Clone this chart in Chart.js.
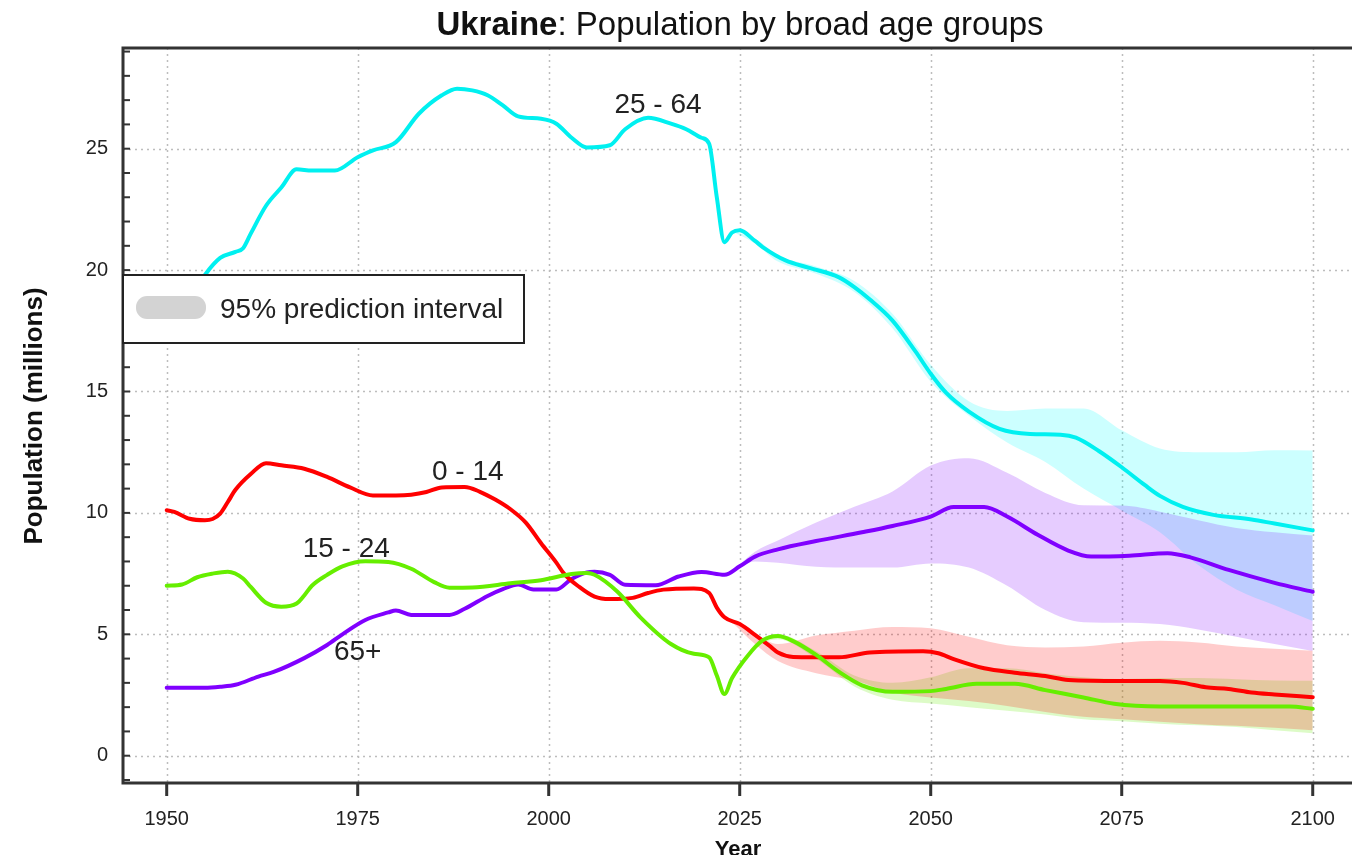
<!DOCTYPE html>
<html>
<head>
<meta charset="utf-8">
<script src="https://cdn.jsdelivr.net/npm/chart.js@4.4.1/dist/chart.umd.min.js"></script>
<style>
html,body{margin:0;padding:0;background:#fff;overflow:hidden}
#wrap{width:1352px;height:855px;position:relative}
</style>
</head>
<body>
<div id="wrap"><canvas id="c" width="1352" height="855"></canvas></div>
<script>
// ---------------- DATA ----------------
const years_0_14 = [1950,1951,1953,1955,1956,1957,1958,1959,1961,1963,1965,1968,1971,1974,1977,1980,1982,1984,1986,1989,1991,1993,1995,1997,1999,2001,2002,2004,2006,2008,2011,2013,2015,2019,2021,2022,2023,2025,2027,2029,2030,2032,2038,2042,2049,2051,2053,2057,2061,2065,2068,2075,2080,2083,2086,2089,2092,2095,2100];
const pop_0_14   = [10.11,10.04,9.76,9.70,9.75,9.97,10.45,10.95,11.60,12.05,11.96,11.82,11.48,11.05,10.72,10.72,10.75,10.86,11.05,11.07,10.87,10.55,10.15,9.60,8.75,7.95,7.50,6.95,6.55,6.45,6.50,6.70,6.84,6.89,6.70,6.10,5.70,5.42,4.98,4.50,4.25,4.07,4.05,4.25,4.30,4.22,3.98,3.60,3.42,3.28,3.12,3.08,3.08,3.00,2.82,2.75,2.60,2.52,2.41];

const years_15_24 = [1950,1952,1954,1956,1958,1960,1961,1963,1965,1967,1968,1969,1971,1973,1976,1979,1982,1985,1987,1990,1995,1999,2003,2005,2006,2009,2012,2016,2019,2021,2022,2023,2024,2026,2028,2030,2032,2035,2038,2041,2045,2050,2052,2056,2061,2065,2070,2074,2080,2097,2100];
const pop_15_24   = [7.00,7.05,7.35,7.50,7.58,7.30,6.95,6.30,6.14,6.27,6.60,7.00,7.45,7.80,8.01,7.98,7.70,7.15,6.92,6.93,7.10,7.23,7.48,7.52,7.45,6.75,5.70,4.60,4.20,4.05,3.30,2.54,3.20,4.10,4.75,4.93,4.72,4.15,3.45,2.90,2.63,2.66,2.75,2.96,2.96,2.70,2.40,2.14,2.03,2.03,1.93];

const years_25_64 = [1950,1952,1954,1955,1957,1959,1960,1961,1963,1965,1967,1969,1972,1975,1977,1980,1983,1986,1988,1990,1992,1994,1996,1999,2001,2003,2005,2008,2010,2013,2016,2018,2020,2021,2022,2023,2024,2025,2027,2028,2031,2034,2038,2040,2042,2045,2048,2050,2052,2055,2059,2063,2067,2069,2072,2075,2078,2080,2083,2087,2092,2095,2100];
const pop_25_64   = [17.60,18.40,19.30,19.80,20.50,20.75,20.90,21.50,22.65,23.40,24.15,24.10,24.10,24.65,24.93,25.27,26.44,27.20,27.47,27.40,27.20,26.78,26.33,26.23,26.03,25.45,25.05,25.14,25.80,26.27,26.03,25.80,25.45,25.20,23.00,21.15,21.55,21.64,21.20,20.95,20.40,20.10,19.70,19.30,18.80,17.92,16.65,15.73,14.95,14.17,13.46,13.25,13.22,13.10,12.55,11.88,11.15,10.70,10.25,9.92,9.73,9.56,9.28];

const years_65 = [1950,1955,1957,1959,1962,1964,1968,1971,1973,1976,1979,1980,1982,1987,1989,1992,1994,1996,1998,2001,2003,2005,2006,2008,2010,2014,2017,2020,2023,2025,2027,2030,2035,2041,2045,2050,2053,2057,2060,2064,2068,2071,2076,2081,2084,2089,2095,2100];
const pop_65   = [2.80,2.80,2.84,2.92,3.26,3.45,4.02,4.56,5.00,5.59,5.90,5.98,5.80,5.80,6.05,6.58,6.86,7.05,6.85,6.85,7.28,7.55,7.58,7.45,7.04,7.02,7.38,7.57,7.45,7.80,8.20,8.50,8.84,9.20,9.46,9.85,10.24,10.24,9.85,9.10,8.45,8.20,8.24,8.34,8.17,7.65,7.12,6.75];

// 95% prediction intervals (projection period)
const bandYears    = [2024,2027,2030,2035,2040,2045,2050,2055,2060,2065,2070,2075,2080,2085,2090,2095,2100];
const band_0_14_hi  = [5.50,5.00,4.60,4.95,5.15,5.30,5.25,4.90,4.55,4.46,4.50,4.65,4.73,4.66,4.50,4.40,4.32];
const band_0_14_lo  = [5.50,4.60,3.90,3.40,3.10,2.60,2.40,2.25,2.05,1.80,1.60,1.50,1.40,1.30,1.23,1.15,1.05];
const band_15_24_hi = [3.10,4.60,5.00,4.30,3.30,3.00,3.23,3.60,3.60,3.40,3.23,3.16,3.20,3.20,3.15,3.10,3.09];
const band_15_24_lo = [3.10,4.40,4.80,4.00,2.85,2.30,2.15,2.00,1.85,1.70,1.50,1.42,1.32,1.25,1.18,1.05,0.92];
const band_25_64_hi = [21.60,21.30,20.60,20.15,19.55,18.20,16.10,14.60,14.20,14.30,14.30,13.40,12.65,12.50,12.50,12.58,12.57];
const band_25_64_lo = [21.60,21.10,20.35,19.85,19.10,17.60,15.40,14.00,12.90,12.10,11.00,10.10,9.20,7.85,6.85,6.20,5.55];
const band_65_hi    = [7.60,8.40,8.86,9.60,10.25,10.88,11.95,12.25,11.65,10.82,10.31,10.30,10.05,9.70,9.38,9.20,9.07];
const band_65_lo    = [7.60,8.00,7.95,7.78,7.75,7.75,7.92,7.75,7.00,6.00,5.50,5.48,5.42,5.20,4.90,4.60,4.31];

const xTickValues = [1950,1975,2000,2025,2050,2075,2100];
const yTickValues = [0,5,10,15,20,25];
const groupNames  = ['0 - 14','15 - 24','25 - 64','65+'];

// ---------------- STYLE / LAYOUT ----------------
const FONT = "'Liberation Sans', Arial, Helvetica, sans-serif";
const COL = { c0:'#ff0000', c15:'#66ee00', c25:'#00f0f0', c65:'#8000ff' };
const BAND = {
  c0:'rgba(255,0,0,0.2)', c15:'rgba(102,238,0,0.22)',
  c25:'rgba(0,255,255,0.2)', c65:'rgba(128,0,255,0.2)'
};
// label anchors in data coordinates (year, millions)
const labelAnchors = [
  {text: groupNames[2], x: 2014.3, y: 26.8},
  {text: groupNames[0], x: 1989.4, y: 11.67},
  {text: groupNames[1], x: 1973.5, y: 8.5},
  {text: groupNames[3], x: 1975.0, y: 4.27}
];

function pts(xs, ys){ return xs.map((x,i)=>({x:x, y:ys[i]})); }

function bandPair(hi, lo, color, order){
  const common = {pointRadius:0, borderWidth:0, borderColor:'transparent', cubicInterpolationMode:'monotone', order:order};
  return [
    Object.assign({data: pts(bandYears, hi), fill:'+1', backgroundColor: color}, common),
    Object.assign({data: pts(bandYears, lo), fill:false, backgroundColor:'transparent'}, common)
  ];
}
function lineSet(xs, ys, color){
  return {data: pts(xs, ys), borderColor: color, borderWidth: 4, pointRadius: 0, fill:false,
          cubicInterpolationMode:'monotone', borderJoinStyle:'round', borderCapStyle:'round', order:0};
}

const datasets = [].concat(
  bandPair(band_25_64_hi, band_25_64_lo, BAND.c25, 4),
  bandPair(band_15_24_hi, band_15_24_lo, BAND.c15, 3),
  bandPair(band_65_hi, band_65_lo, BAND.c65, 2),
  bandPair(band_0_14_hi, band_0_14_lo, BAND.c0, 1),
  [lineSet(years_15_24, pop_15_24, COL.c15),
   lineSet(years_0_14, pop_0_14, COL.c0),
   lineSet(years_25_64, pop_25_64, COL.c25),
   lineSet(years_65, pop_65, COL.c65)]
);

const decor = {
  id:'decor',
  beforeDraw(chart){
    const {ctx, chartArea:a, scales:{x, y}} = chart;
    ctx.save();
    ctx.fillStyle = '#fff';
    ctx.fillRect(0,0,chart.width,chart.height);
    // dotted grid
    ctx.strokeStyle = '#bdbdbd';
    ctx.lineWidth = 1.5;
    ctx.setLineDash([2,4]);
    xTickValues.forEach(v=>{
      const px = Math.round(x.getPixelForValue(v))+0.5;
      ctx.beginPath(); ctx.moveTo(px, a.top); ctx.lineTo(px, a.bottom); ctx.stroke();
    });
    yTickValues.forEach(v=>{
      const py = Math.round(y.getPixelForValue(v))+0.5;
      ctx.beginPath(); ctx.moveTo(a.left, py); ctx.lineTo(a.right, py); ctx.stroke();
    });
    ctx.restore();
  },
  afterDatasetsDraw(chart){
    const {ctx, chartArea:a, scales:{x, y}} = chart;
    ctx.save();
    ctx.strokeStyle = '#333';
    ctx.lineWidth = 3;
    ctx.beginPath();
    ctx.moveTo(a.right+2, a.top); ctx.lineTo(a.left, a.top); ctx.lineTo(a.left, a.bottom); ctx.lineTo(a.right+2, a.bottom);
    ctx.stroke();
    // x ticks (outside)
    xTickValues.forEach(v=>{
      const px = x.getPixelForValue(v);
      ctx.beginPath(); ctx.moveTo(px, a.bottom); ctx.lineTo(px, a.bottom+13); ctx.stroke();
    });
    // y minor ticks (inside)
    ctx.lineWidth = 2;
    for (let v = Math.ceil(y.min); v <= Math.floor(y.max); v++){
      const py = y.getPixelForValue(v);
      ctx.beginPath(); ctx.moveTo(a.left, py); ctx.lineTo(a.left+7, py); ctx.stroke();
    }
    ctx.restore();
  },
  afterDraw(chart){
    const {ctx, chartArea:a, scales:{x, y}} = chart;
    ctx.save();
    // group labels
    ctx.fillStyle = '#222';
    ctx.font = '28px ' + FONT;
    ctx.textAlign = 'center';
    ctx.textBaseline = 'middle';
    labelAnchors.forEach(l=>{
      ctx.fillText(l.text, x.getPixelForValue(l.x), y.getPixelForValue(l.y));
    });
    // legend box
    const lx = a.left, ly = 275, lw = 401, lh = 68;
    ctx.fillStyle = '#fff';
    ctx.fillRect(lx, ly, lw, lh);
    ctx.strokeStyle = '#222';
    ctx.lineWidth = 2;
    ctx.strokeRect(lx, ly, lw, lh);
    ctx.fillStyle = '#d3d3d3';
    ctx.beginPath();
    if (ctx.roundRect) ctx.roundRect(136, 296, 70, 23, 11); else ctx.rect(136,296,70,23);
    ctx.fill();
    ctx.fillStyle = '#222';
    ctx.font = '28px ' + FONT;
    ctx.textAlign = 'left';
    ctx.textBaseline = 'middle';
    ctx.fillText('95% prediction interval', 220, 310);
    // title
    ctx.textBaseline = 'alphabetic';
    const boldPart = 'Ukraine', restPart = ': Population by broad age groups';
    ctx.font = 'bold 33px ' + FONT;
    const w1 = ctx.measureText(boldPart).width;
    ctx.font = '33px ' + FONT;
    const w2 = ctx.measureText(restPart).width;
    const tx = 740 - (w1 + w2)/2;
    ctx.fillStyle = '#111';
    ctx.font = 'bold 33px ' + FONT;
    ctx.fillText(boldPart, tx, 35);
    ctx.font = '33px ' + FONT;
    ctx.fillText(restPart, tx + w1, 35);
    // y axis title
    ctx.save();
    ctx.translate(42, 416);
    ctx.rotate(-Math.PI/2);
    ctx.font = 'bold 26px ' + FONT;
    ctx.textAlign = 'center';
    ctx.fillText('Population (millions)', 0, 0);
    ctx.restore();
    // x axis title
    ctx.font = 'bold 22px ' + FONT;
    ctx.textAlign = 'center';
    ctx.fillText('Year', 738, 856);
    ctx.restore();
  }
};

new Chart(document.getElementById('c'), {
  type: 'line',
  data: { datasets: datasets },
  options: {
    responsive: false,
    animation: false,
    devicePixelRatio: 1,
    layout: { padding: {top: 48, left: 0, right: 0, bottom: 0} },
    plugins: {
      legend: {display:false},
      title: {display:false},
      tooltip: {enabled:false},
      filler: {propagate:false, drawTime:'beforeDatasetsDraw'}
    },
    scales: {
      x: {
        type:'linear', min: 1944.28, max: 2105.14,
        grid: {display:false, drawTicks:false},
        border: {display:false},
        ticks: {font:{family:FONT, size:20}, color:'#222', padding:24, autoSkip:false, maxRotation:0,
                callback: v => String(v)},
        afterBuildTicks: s => { s.ticks = xTickValues.map(v=>({value:v})); },
        afterFit: s => { s.height = 72; s.paddingLeft = 0; s.paddingRight = 0; }
      },
      y: {
        type:'linear', min: -1.124, max: 29.147,
        grid: {display:false, drawTicks:false},
        border: {display:false},
        ticks: {font:{family:FONT, size:20}, color:'#222', padding:15, autoSkip:false,
                callback: v => String(v)},
        afterBuildTicks: s => { s.ticks = yTickValues.map(v=>({value:v})); },
        afterFit: s => { s.width = 123; s.paddingTop = 0; s.paddingBottom = 0; }
      }
    }
  },
  plugins: [decor]
});
</script>
</body>
</html>
